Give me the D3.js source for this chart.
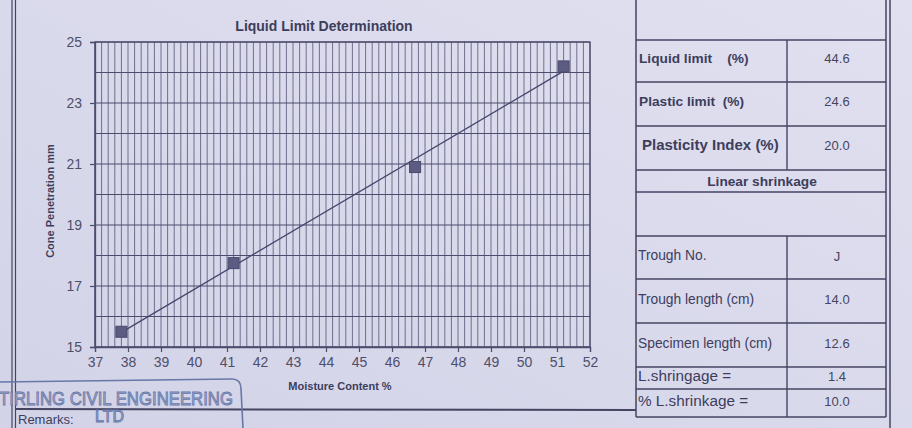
<!DOCTYPE html>
<html>
<head>
<meta charset="utf-8">
<script src="https://cdn.jsdelivr.net/npm/d3@7"></script>
<style>
  html, body { margin: 0; padding: 0; background: #d9d9ec; }
  svg { display: block; font-family: "Liberation Sans", Arial, sans-serif; }
</style>
</head>
<body>
<svg id="sheet" width="912" height="428"></svg>
<script>
// Cone penetration test results
const moisture = [37.8, 41.2, 46.7, 51.2];
const penetration = [15.5, 17.75, 20.9, 24.2];
const xTicks = [37, 38, 39, 40, 41, 42, 43, 44, 45, 46, 47, 48, 49, 50, 51, 52];
const yTicks = [15, 17, 19, 21, 23, 25];

// Results table
const limitLabels = ["Liquid limit    (%)", "Plastic limit  (%)", "Plasticity Index (%)"];
const limitValues = ["44.6", "24.6", "20.0"];
const shrinkLabels = ["Trough No.", "Trough length (cm)", "Specimen length (cm)", "L.shringage =", "% L.shrinkage ="];
const shrinkValues = ["J", "14.0", "12.6", "1.4", "10.0"];

const ink = "#3d3d5c";
const gridInk = "#4c4c6c";
const svg = d3.select("#sheet");

// subtle paper tint
const defs = svg.append("defs");
const grad = defs.append("linearGradient").attr("id", "paper")
  .attr("x1", "0").attr("y1", "1").attr("x2", "1").attr("y2", "0");
grad.append("stop").attr("offset", "0").attr("stop-color", "#d3d3e8");
grad.append("stop").attr("offset", "1").attr("stop-color", "#e0e0f0");
svg.append("rect").attr("width", 912).attr("height", 428).attr("fill", "url(#paper)");

// page frame lines
const frame = svg.append("g").attr("stroke", "#454563").attr("fill", "none");
frame.append("line").attr("x1", 12).attr("x2", 12).attr("y1", 0).attr("y2", 428).attr("stroke-width", 1.2);
frame.append("line").attr("x1", 15.5).attr("x2", 15.5).attr("y1", 0).attr("y2", 428).attr("stroke-width", 1.2);
frame.append("line").attr("x1", 15).attr("x2", 636).attr("y1", 409).attr("y2", 410).attr("stroke-width", 2);
frame.append("line").attr("x1", 890).attr("x2", 890).attr("y1", 0).attr("y2", 428).attr("stroke-width", 1.5);

// ---- chart ----
const x = d3.scaleLinear().domain([37, 52]).range([95, 590]);
const y = d3.scaleLinear().domain([15, 25]).range([347, 42]);

const grid = svg.append("g").attr("stroke", gridInk).attr("stroke-width", 1);
grid.selectAll("line.v").data(d3.range(0, 76).map(i => 37 + i * 0.2))
  .join("line").attr("class", "v")
  .attr("x1", d => x(d)).attr("x2", d => x(d))
  .attr("y1", y(25)).attr("y2", y(15))
  .attr("stroke-opacity", 0.75);
grid.selectAll("line.h").data(d3.range(15, 26))
  .join("line").attr("class", "h")
  .attr("x1", x(37)).attr("x2", x(52))
  .attr("y1", d => y(d)).attr("y2", d => y(d))
  .attr("stroke-width", 1.2);
grid.append("rect")
  .attr("x", x(37)).attr("y", y(25))
  .attr("width", x(52) - x(37)).attr("height", y(15) - y(25))
  .attr("fill", "none").attr("stroke-width", 1.3);

const xAxis = svg.append("g").attr("transform", `translate(0,${y(15)})`)
  .call(d3.axisBottom(x).tickValues(xTicks).tickFormat(d3.format("d")).tickSize(5).tickPadding(5));
const yAxis = svg.append("g").attr("transform", `translate(${x(37)},0)`)
  .call(d3.axisLeft(y).tickValues(yTicks).tickFormat(d3.format("d")).tickSize(5).tickPadding(8));
[xAxis, yAxis].forEach(a => {
  a.select(".domain").attr("stroke", gridInk).attr("stroke-width", 1.3);
  a.selectAll(".tick line").attr("stroke", gridInk).attr("stroke-width", 1.2);
  a.selectAll(".tick text").attr("fill", "#4f4f6a").attr("font-size", 14)
    .attr("font-family", "'Liberation Sans', Arial, sans-serif");
});

// least-squares trend line across the measured range
const mx = d3.mean(moisture), my = d3.mean(penetration);
const sxy = d3.sum(moisture, (d, i) => (d - mx) * (penetration[i] - my));
const sxx = d3.sum(moisture, d => (d - mx) * (d - mx));
const slope = sxy / sxx, icpt = my - slope * mx;
const ends = d3.extent(moisture);
svg.append("line")
  .attr("x1", x(ends[0])).attr("y1", y(icpt + slope * ends[0]))
  .attr("x2", x(ends[1])).attr("y2", y(icpt + slope * ends[1]))
  .attr("stroke", "#46466c").attr("stroke-width", 1.3);

const pts = moisture.map((m, i) => ({ m, p: penetration[i] }));
svg.selectAll("rect.pt").data(pts).join("rect").attr("class", "pt")
  .attr("x", d => x(d.m) - 5.5).attr("y", d => y(d.p) - 5.5)
  .attr("width", 11).attr("height", 11)
  .attr("fill", "#5c5c82").attr("stroke", "#4a4a6e").attr("stroke-width", 1);

svg.append("text").attr("x", 324).attr("y", 31).attr("text-anchor", "middle")
  .attr("font-size", 14).attr("font-weight", "bold").attr("fill", ink)
  .text("Liquid Limit Determination");
svg.append("text").attr("x", 340).attr("y", 390).attr("text-anchor", "middle")
  .attr("font-size", 11).attr("font-weight", "bold").attr("fill", ink)
  .text("Moisture Content %");
svg.append("text").attr("transform", "translate(54,201) rotate(-90)").attr("text-anchor", "middle")
  .attr("font-size", 11).attr("font-weight", "bold").attr("fill", ink)
  .text("Cone Penetration mm");

// ---- results table ----
const tbl = svg.append("g");
const tL = 636, tM = 787, tR = 886;
const rowEdges = [0, 40, 82, 126, 170, 192, 236, 279, 323, 367, 389, 417];
const line = (x1, y1, x2, y2, w) => tbl.append("line")
  .attr("x1", x1).attr("y1", y1).attr("x2", x2).attr("y2", y2)
  .attr("stroke", "#454563").attr("stroke-width", w || 1.4);
rowEdges.slice(1).forEach(e => line(tL, e, tR, e));
line(tL, 0, tL, 417, 1.5);
line(tR, 0, tR, 417, 1.5);
// middle column divider for the value rows
[[1, 4], [6, 11]].forEach(([a, b]) => line(tM, rowEdges[a], tM, rowEdges[b]));

const label = (txt, yy, size, bold, xx) => tbl.append("text")
  .attr("x", xx || 639).attr("y", yy).attr("font-size", size)
  .attr("font-weight", bold ? "bold" : "normal").attr("fill", ink)
  .attr("dominant-baseline", "middle").style("white-space", "pre").text(txt);
const value = (txt, yy) => tbl.append("text")
  .attr("x", 837).attr("y", yy).attr("text-anchor", "middle")
  .attr("dominant-baseline", "middle").attr("font-size", 13).attr("fill", "#45455f").text(txt);

limitLabels.forEach((t, i) => {
  const yy = (rowEdges[i + 1] + rowEdges[i + 2]) / 2 - 2;
  if (i === 2) label(t, yy, 15, true, 642); else label(t, yy, 13.7, true);
  value(limitValues[i], yy + 1);
});
tbl.append("text").attr("x", 762).attr("y", 182).attr("text-anchor", "middle")
  .attr("dominant-baseline", "middle").attr("font-size", 13.7).attr("font-weight", "bold")
  .attr("fill", ink).text("Linear shrinkage");
shrinkLabels.forEach((t, i) => {
  const yy = (rowEdges[i + 6] + rowEdges[i + 7]) / 2 - 1;
  label(t, yy, i >= 3 ? 15.3 : 13.8, false, 638);
  value(shrinkValues[i], yy + 1);
});

// ---- company stamp and remarks ----
const stamp = "#6878a8";
svg.append("path")
  .attr("d", "M0,382 L232,379 Q241,379 241,389 L243,428")
  .attr("fill", "none").attr("stroke", stamp).attr("stroke-width", 1.6);
svg.append("text").attr("x", -1).attr("y", 405).attr("font-size", 19)
  .attr("textLength", 234).attr("lengthAdjust", "spacingAndGlyphs")
  .attr("fill", "#a9b4d6").attr("stroke", stamp).attr("stroke-width", 0.9)
  .text("TIRLING CIVIL ENGINEERING");
svg.append("text").attr("x", 95).attr("y", 422).attr("font-size", 16)
  .attr("fill", "#a9b4d6").attr("stroke", stamp).attr("stroke-width", 0.9)
  .text("LTD");
svg.append("text").attr("x", 18).attr("y", 424).attr("font-size", 13)
  .attr("fill", ink).text("Remarks:");
</script>
</body>
</html>
